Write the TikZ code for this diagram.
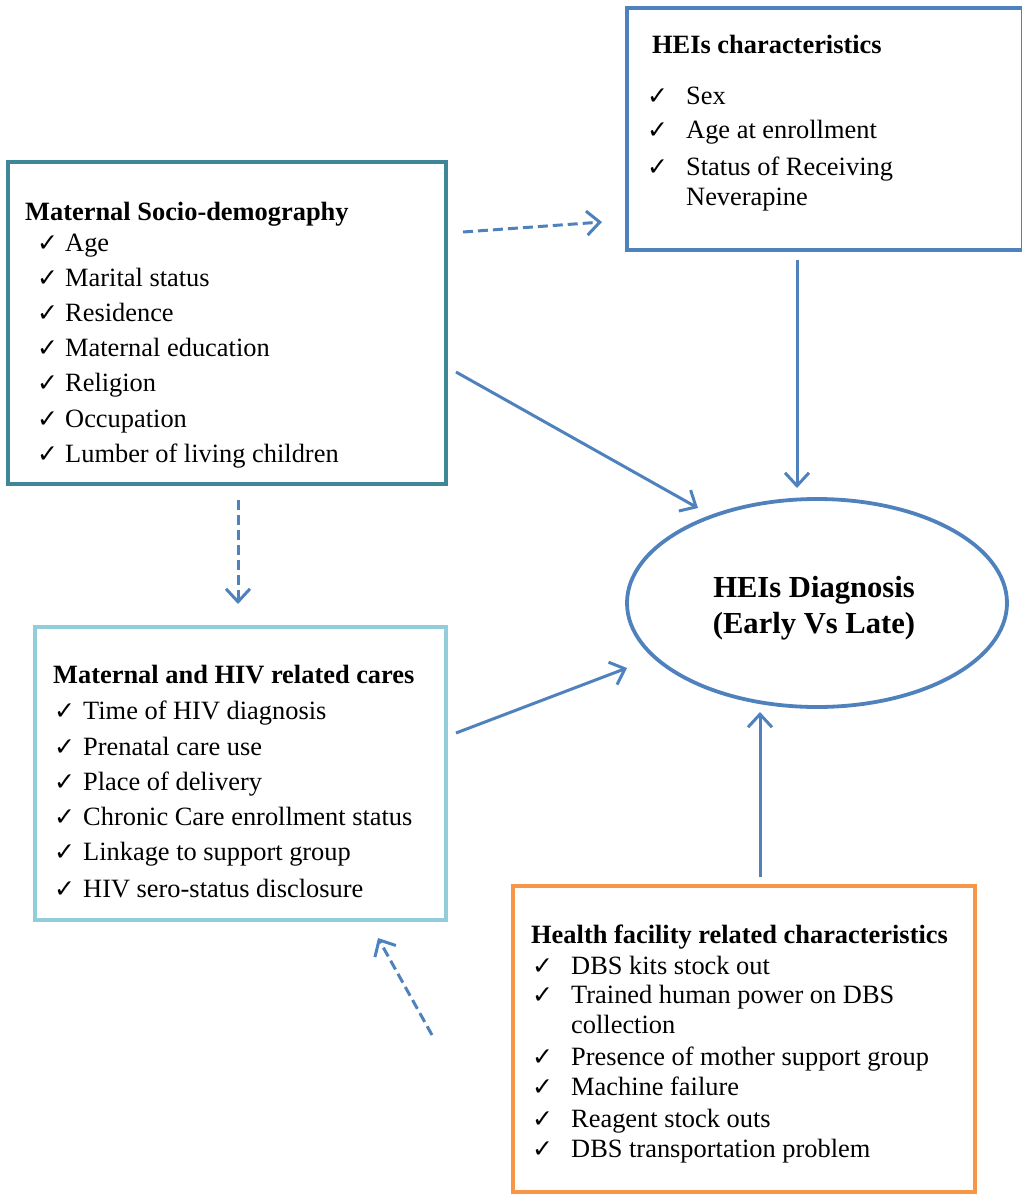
\documentclass[tikz,border=0pt]{standalone}
\usepackage{fontspec}
\setmainfont{Liberation Serif}
\newfontfamily\ckfam{DejaVu Sans}
\usetikzlibrary{shapes.geometric,arrows.meta}
\definecolor{tealc}{HTML}{3F8797}
\definecolor{lightbc}{HTML}{92CDDC}
\definecolor{orangec}{HTML}{F79646}
\definecolor{bluec}{HTML}{4F81BD}
\newcommand{\ckline}[5]{%
  \node[ckm] (#1c) at (#2,#4) {✓};
  \node[txt] (#1) at (#3,#4) {#5};}
\begin{document}
\begin{tikzpicture}[x=1pt,y=-1pt,
  box/.style={draw, line width=3.3pt, rectangle, inner sep=0pt},
  txt/.style={anchor=base west, inner sep=0pt, font=\fontsize{26.4}{30}\selectfont},
  ttl/.style={anchor=base west, inner sep=0pt, font=\fontsize{26.4}{30}\selectfont\bfseries},
  ckm/.style={anchor=base west, inner sep=0pt, font=\ckfam\bfseries\fontsize{25}{28}\selectfont},
  arr/.style={draw=bluec, line width=3pt, -{Straight Barb[length=13pt,width=24pt]}},
  dsh/.style={arr, dash pattern=on 10pt off 5pt}]
\useasboundingbox (0,0) rectangle (1021,1194);

% boxes
\node[box, draw=tealc, minimum width=438, minimum height=322] (ms) at (227,323) {};
\node[box, draw=bluec, minimum width=396, minimum height=242] (hei) at (825,129) {};
\node[box, draw=lightbc, minimum width=411, minimum height=293] (mh) at (240.5,773.5) {};
\node[box, draw=orangec, minimum width=462, minimum height=306] (hf) at (744,1039) {};
\node[ellipse, draw=bluec, line width=3.8pt, minimum width=380, minimum height=208, inner sep=0pt] (dx) at (817,603) {};

% ellipse text
\node[anchor=base, inner sep=0pt, font=\fontsize{30.6}{36}\selectfont\bfseries] (dx1) at (814,597) {HEIs Diagnosis};
\node[anchor=base, inner sep=0pt, font=\fontsize{30.6}{36}\selectfont\bfseries] (dx2) at (814,633) {(Early Vs Late)};

% Maternal socio-demography
\node[ttl] (mst) at (25,220) {Maternal Socio-demography};
\ckline{ms1}{37}{65}{251}{Age}
\ckline{ms2}{37}{65}{286}{Marital status}
\ckline{ms3}{37}{65}{321}{Residence}
\ckline{ms4}{37}{65}{356}{Maternal education}
\ckline{ms5}{37}{65}{391}{Religion}
\ckline{ms6}{37}{65}{427}{Occupation}
\ckline{ms7}{37}{65}{462}{Lumber of living children}

% HEIs characteristics
\node[ttl] (heit) at (652,53) {HEIs characteristics};
\ckline{he1}{647}{686}{104}{Sex}
\ckline{he2}{647}{686}{138}{Age at enrollment}
\ckline{he3}{647}{686}{175}{Status of Receiving}
\node[txt] (he4) at (686,205) {Neverapine};

% Maternal and HIV related cares
\node[ttl] (mht) at (53,683) {Maternal and HIV related cares};
\ckline{mh1}{54}{83}{719}{Time of HIV diagnosis}
\ckline{mh2}{54}{83}{755}{Prenatal care use}
\ckline{mh3}{54}{83}{790}{Place of delivery}
\ckline{mh4}{54}{83}{825}{Chronic Care enrollment status}
\ckline{mh5}{54}{83}{860}{Linkage to support group}
\ckline{mh6}{54}{83}{897}{HIV sero-status disclosure}

% Health facility
\node[ttl] (hft) at (531,943) {Health facility related characteristics};
\ckline{hf1}{532}{571}{974}{DBS kits stock out}
\ckline{hf2}{532}{571}{1003}{Trained human power on DBS}
\node[txt] (hf2b) at (571,1033) {collection};
\ckline{hf3}{532}{571}{1065}{Presence of mother support group}
\ckline{hf4}{532}{571}{1095}{Machine failure}
\ckline{hf5}{532}{571}{1127}{Reagent stock outs}
\ckline{hf6}{532}{571}{1157}{DBS transportation problem}

% connector end points
\coordinate (a1s) at (463,232); \coordinate (a1e) at (602,222);
\coordinate (a2s) at (797,260); \coordinate (a2e) at (797,488);
\coordinate (a3s) at (456,372); \coordinate (a3e) at (698,508);
\coordinate (a4s) at (238,500); \coordinate (a4e) at (238,604);
\coordinate (a5s) at (456,733); \coordinate (a5e) at (627,668);
\coordinate (a6s) at (760,877); \coordinate (a6e) at (760,712);
\coordinate (a7s) at (432,1035); \coordinate (a7e) at (378,938);

\draw[dsh] (a1s) -- (a1e);
\draw[arr] (a2s) -- (a2e);
\draw[arr] (a3s) -- (a3e);
\draw[dsh] (a4s) -- (a4e);
\draw[arr] (a5s) -- (a5e);
\draw[arr] (a6s) -- (a6e);
\draw[dsh] (a7s) -- (a7e);
\end{tikzpicture}
\end{document}
